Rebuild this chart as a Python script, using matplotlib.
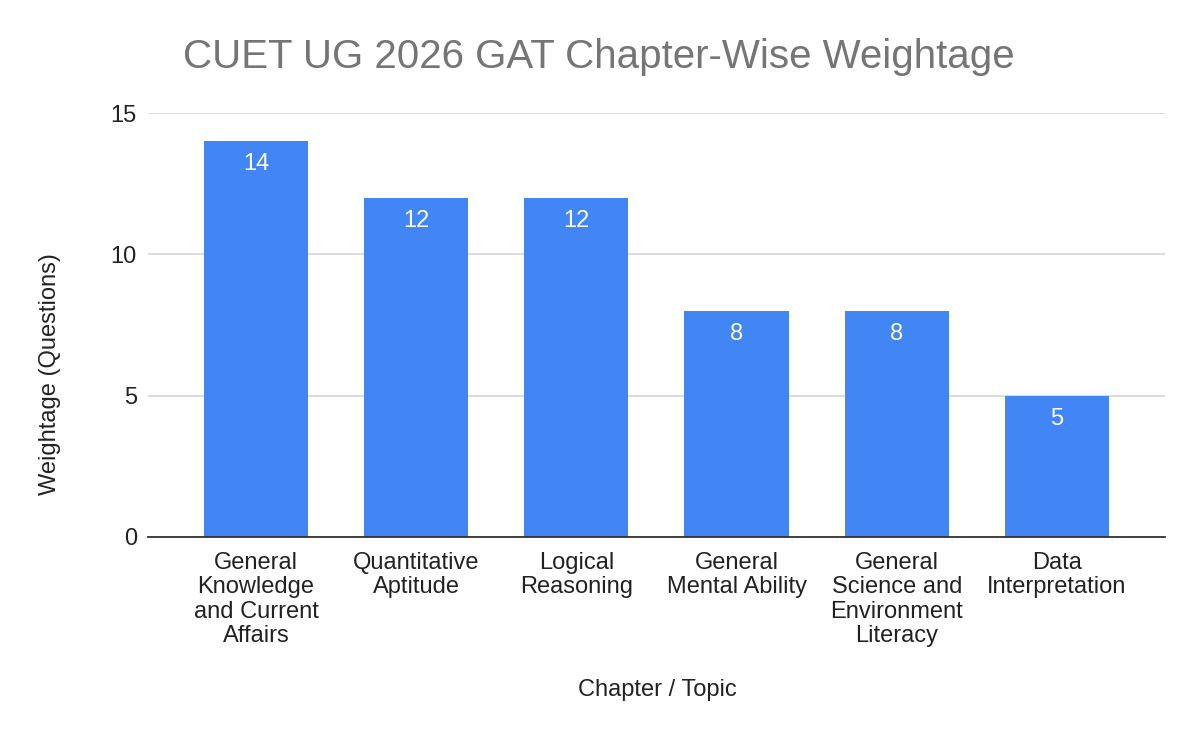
import matplotlib.pyplot as plt

plt.rcParams['font.family'] = ['Liberation Sans', 'DejaVu Sans']

chapters = [
    "General\nKnowledge\nand Current\nAffairs",
    "Quantitative\nAptitude",
    "Logical\nReasoning",
    "General\nMental Ability",
    "General\nScience and\nEnvironment\nLiteracy",
    "Data\nInterpretation",
]
weightage = [14, 12, 12, 8, 8, 5]
y_ticks = [0, 5, 10, 15]

fig = plt.figure(figsize=(12, 7.42), dpi=100)
ax = fig.add_axes([0.1233, 0.2763, 0.8475, 0.5714])

x = range(len(chapters))
bars = ax.bar(x, weightage, width=0.65, color='#4285F4', zorder=3)

for b, v in zip(bars, weightage):
    ax.annotate(str(v), (b.get_x() + b.get_width() / 2, v),
                xytext=(0, -16.5), textcoords='offset points',
                ha='center', va='center', color='white', fontsize=17)

ax.set_xlim(-0.675, 5.675)
ax.set_ylim(0, 15)
ax.set_yticks(y_ticks)
ax.set_xticks(list(x))
ax.set_xticklabels(chapters, fontsize=17, color='#222222', linespacing=1.13)
ax.tick_params(axis='y', labelsize=17, colors='#222222', length=0, pad=8)
ax.tick_params(axis='x', length=0, pad=11)

ax.grid(axis='y', color='#d9d9d9', linewidth=1.3, zorder=0)
for s in ['top', 'right', 'left']:
    ax.spines[s].set_visible(False)
ax.spines['bottom'].set_color('#333333')
ax.spines['bottom'].set_linewidth(1.3)
ax.spines['bottom'].set_zorder(4)

fig.text(50 / 1200, 1 - 374 / 742, "Weightage (Questions)", rotation=90,
         ha='center', va='center', fontsize=17, color='#222222')
fig.text(657 / 1200, 1 - 690 / 742, "Chapter / Topic",
         ha='center', va='center', fontsize=17, color='#222222')
fig.text(599 / 1200, 1 - 57 / 742, "CUET UG 2026 GAT Chapter-Wise Weightage",
         ha='center', va='center', fontsize=29, color='#757575')

fig.savefig("out.png", dpi=100)
